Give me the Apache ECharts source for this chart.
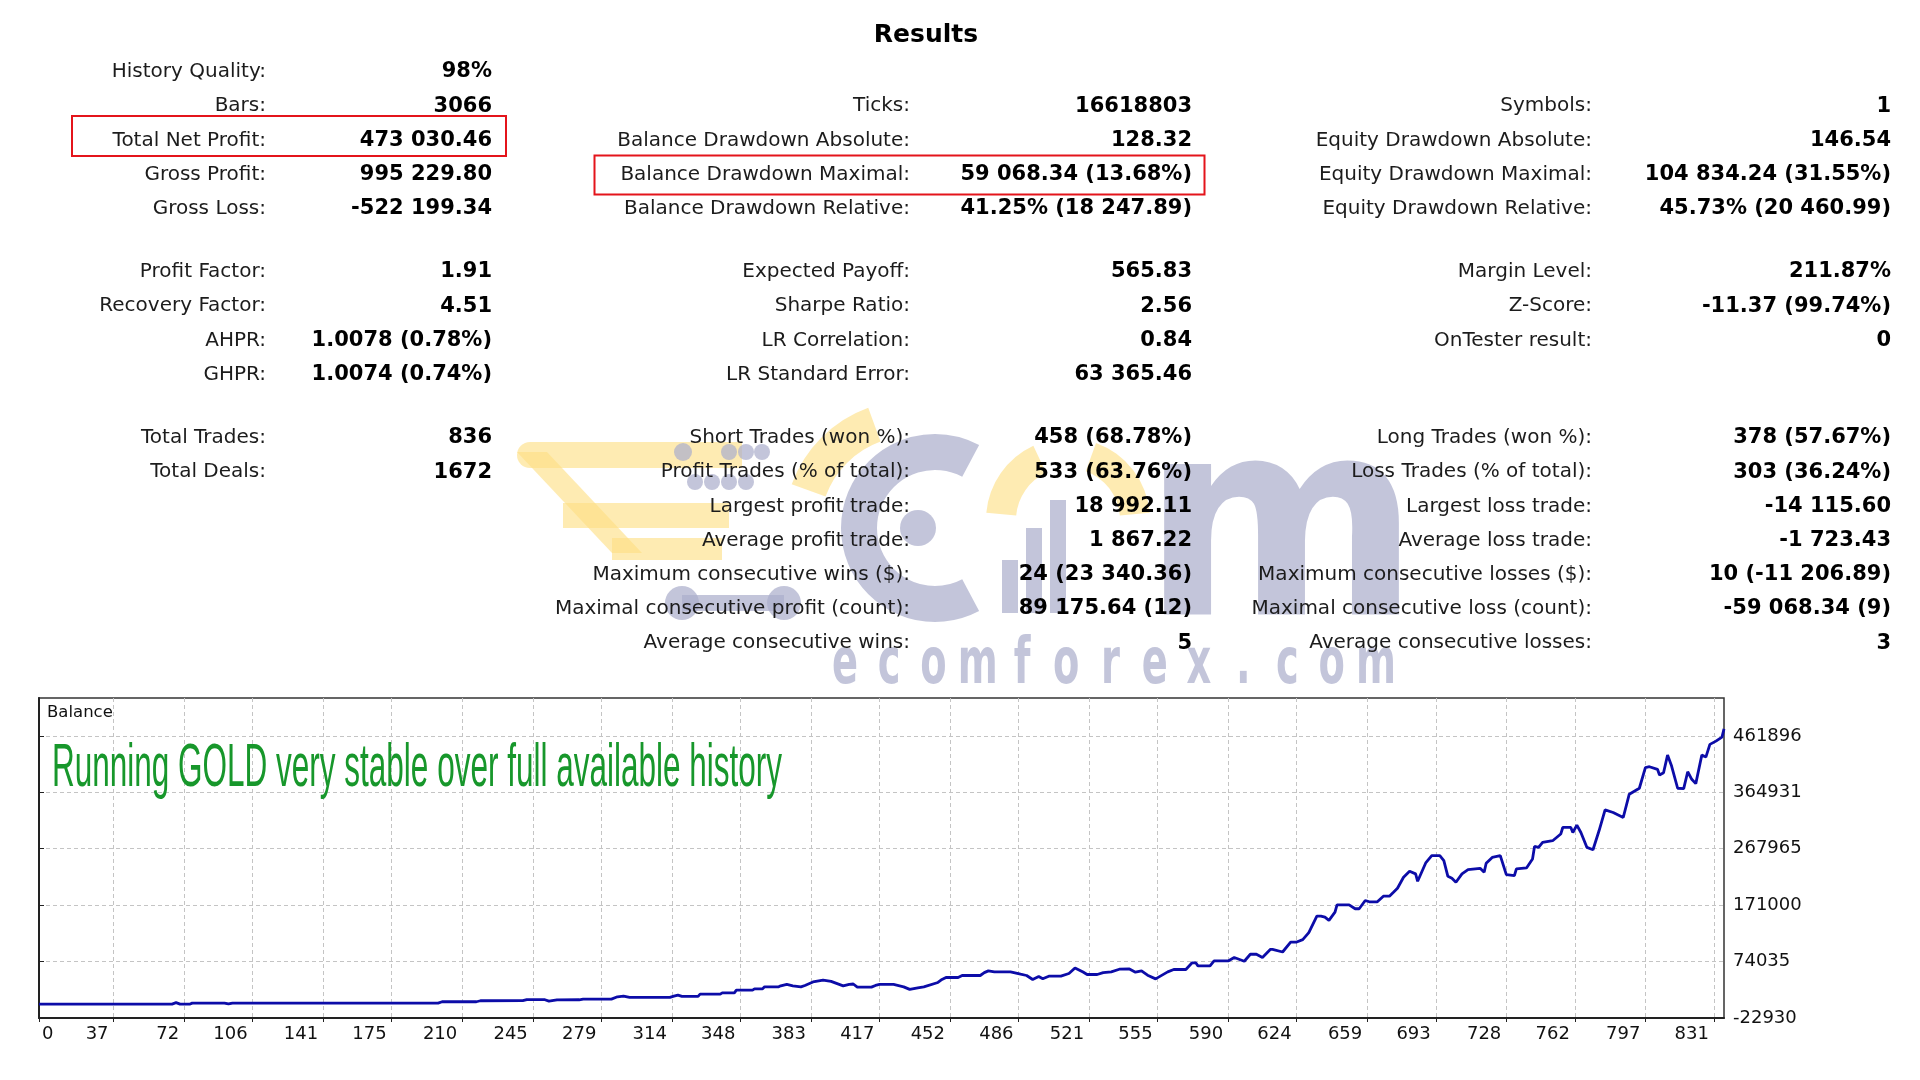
<!DOCTYPE html>
<html><head><meta charset="utf-8">
<script src="https://cdn.jsdelivr.net/npm/echarts@6/dist/echarts.min.js"></script>
<style>html,body{margin:0;padding:0;background:#fff}#c{width:1920px;height:1080px}</style>
</head><body><div id="c"></div>
<script>
// ---------- chart data ----------
const tradeIdx = [0,66,68,70,75,76,92,94,96,198,200,217,219,240,242,251,253,257,268,270,284,287,290,293,313,315,317,319,327,328,338,339,345,346,354,355,359,360,367,368,371,374,378,380,384,389,393,399,402,404,406,413,415,417,424,429,432,436,439,446,448,450,456,458,467,469,471,474,482,487,490,493,496,498,501,507,511,514,518,520,525,528,532,536,541,544,547,550,554,560,563,569,572,574,575,581,583,590,593,598,601,604,607,611,612,617,621,624,627,630,634,636,638,640,643,644,650,653,655,658,660,664,667,670,672,674,677,680,683,684,688,691,695,697,699,701,703,706,709,715,717,718,721,725,728,732,733,738,741,742,744,746,751,755,756,760,761,763,765,768,771,774,777,781,786,789,794,797,799,803,804,806,808,810,813,816,818,820,822,825,827,829,832,835,836];
const balance = [1000,1000,3500,900,1000,2600,2600,1200,2600,2600,5000,5000,6700,6800,8500,8500,6100,8300,8400,9600,9600,13500,14700,12500,12500,14700,16400,14200,14200,18100,18100,20300,20300,25000,25000,27200,27200,30600,30600,32300,34700,32300,30600,33000,39000,42100,40000,32300,34700,35500,30100,30100,33000,34700,34700,30600,26200,29000,30600,38100,43300,46700,46700,50100,50100,55000,58000,56300,56300,52300,50100,43300,48400,44500,48900,48900,53500,63100,56000,51800,51800,55000,56300,60900,61400,55800,58000,50600,44300,56300,60400,60400,71700,71700,66600,66600,75100,75100,81000,74600,86600,86600,80900,95100,95100,90500,107600,107600,111700,123700,152100,152100,150400,144800,159000,171600,171600,164800,164800,179000,176800,176800,186400,186400,193200,200100,218900,229200,224700,212000,243500,256000,256000,247500,220600,217200,210300,224700,232100,234300,227500,242900,253100,256000,223500,221800,233300,235000,250400,272000,270200,278800,281700,293200,304500,304500,295900,308600,295900,270200,266300,298800,334800,330200,321600,361700,371900,407200,408900,404400,394700,398600,428900,410100,371900,371300,400300,387300,379800,428900,425500,447300,452900,459700,474030];
const xTickLabels = ['0','37','72','106','141','175','210','245','279','314','348','383','417','452','486','521','555','590','624','659','693','728','762','797','831'];
const yTickLabels = ['-22930','74035','171000','267965','364931','461896'];
const xMax = 836;
const yMax = 527000;
const chartLabel = 'Balance';
const chartNote = 'Running GOLD very stable over full available history';

// ---------- report text ----------
const reportTitle = 'Results';
const col1Rows = [0,1,2,3,4,5,6,7,8,9,10];
const col1Labels = ['History Quality:','Bars:','Total Net Profit:','Gross Profit:','Gross Loss:','Profit Factor:','Recovery Factor:','AHPR:','GHPR:','Total Trades:','Total Deals:'];
const col1Values = ['98%','3066','473 030.46','995 229.80','-522 199.34','1.91','4.51','1.0078 (0.78%)','1.0074 (0.74%)','836','1672'];
const col2Rows = [1,2,3,4,5,6,7,8,9,10,11,12,13,14,15];
const col2Labels = ['Ticks:','Balance Drawdown Absolute:','Balance Drawdown Maximal:','Balance Drawdown Relative:','Expected Payoff:','Sharpe Ratio:','LR Correlation:','LR Standard Error:','Short Trades (won %):','Profit Trades (% of total):','Largest profit trade:','Average profit trade:','Maximum consecutive wins ($):','Maximal consecutive profit (count):','Average consecutive wins:'];
const col2Values = ['16618803','128.32','59 068.34 (13.68%)','41.25% (18 247.89)','565.83','2.56','0.84','63 365.46','458 (68.78%)','533 (63.76%)','18 992.11','1 867.22','24 (23 340.36)','89 175.64 (12)','5'];
const col3Rows = [1,2,3,4,5,6,7,9,10,11,12,13,14,15];
const col3Labels = ['Symbols:','Equity Drawdown Absolute:','Equity Drawdown Maximal:','Equity Drawdown Relative:','Margin Level:','Z-Score:','OnTester result:','Long Trades (won %):','Loss Trades (% of total):','Largest loss trade:','Average loss trade:','Maximum consecutive losses ($):','Maximal consecutive loss (count):','Average consecutive losses:'];
const col3Values = ['1','146.54','104 834.24 (31.55%)','45.73% (20 460.99)','211.87%','-11.37 (99.74%)','0','378 (57.67%)','303 (36.24%)','-14 115.60','-1 723.43','10 (-11 206.89)','-59 068.34 (9)','3'];
const watermarkText = 'ecomforex.com';

// ---------- layout ----------
const xTickVals = xTickLabels.map(Number);
const yTickVals = yTickLabels.map(Number);
function rowY(i){ if(i<5) return 72+34.2*i; if(i<9) return 272+34.2*(i-5); return 438+34.2*(i-9); }
const LABEL_FONT = '20px "DejaVu Sans"';
const VALUE_FONT = 'bold 21px "DejaVu Sans"';
function T(x,y,s,font,fill,align,extra){
  return Object.assign({type:'text', x:x, y:y, z:10, style:{text:s, font:font, fill:fill, align:align, verticalAlign:'middle', textAlign:align, textVerticalAlign:'middle'}}, extra||{});
}
function measure(s,font){ const c=document.createElement('canvas').getContext('2d'); c.font=font; return c.measureText(s).width; }

const graphics = [];
// watermark (behind)
const WG = 'rgba(172,175,204,0.72)', WY = 'rgba(253,222,130,0.62)';
const deg = Math.PI/180;
graphics.push({type:'sector', z:1, shape:{cx:912, cy:528, r0:92, r:128, startAngle:200*deg, endAngle:250*deg, clockwise:true}, style:{fill:WY}});
graphics.push({type:'rect', z:1, shape:{x:517, y:442, width:225, height:26, r:[13,0,0,13]}, style:{fill:WY}});
graphics.push({type:'polygon', z:1, shape:{points:[[517,452],[547,452],[642,553],[612,553]]}, style:{fill:WY}});
graphics.push({type:'rect', z:1, shape:{x:563, y:503, width:166, height:25}, style:{fill:WY}});
graphics.push({type:'rect', z:1, shape:{x:612, y:538, width:110, height:22}, style:{fill:WY}});
graphics.push({type:'sector', z:1, shape:{cx:1068, cy:520, r0:52, r:82, startAngle:185*deg, endAngle:245*deg, clockwise:true}, style:{fill:WY}});
graphics.push({type:'sector', z:1, shape:{cx:1068, cy:520, r0:52, r:82, startAngle:290*deg, endAngle:355*deg, clockwise:true}, style:{fill:WY}});
graphics.push({type:'sector', z:2, shape:{cx:935, cy:528, r0:58, r:94, startAngle:62*deg, endAngle:298*deg, clockwise:true}, style:{fill:WG}});
graphics.push({type:'circle', z:2, shape:{cx:918, cy:528, r:18}, style:{fill:WG}});
[[683,452,9],[729,452,8],[746,452,8],[762,452,8],[695,482,8],[712,482,8],[729,482,8],[746,482,8]].forEach(d=>graphics.push({type:'circle', z:2, shape:{cx:d[0], cy:d[1], r:d[2]}, style:{fill:WG}}));
graphics.push({type:'circle', z:2, shape:{cx:682, cy:603, r:17}, style:{fill:WG}});
graphics.push({type:'circle', z:2, shape:{cx:784, cy:603, r:17}, style:{fill:WG}});
graphics.push({type:'rect', z:2, shape:{x:682, y:595, width:102, height:16}, style:{fill:WG}});
[[1002,560],[1026,528],[1050,500]].forEach(b=>graphics.push({type:'rect', z:2, shape:{x:b[0], y:b[1], width:16, height:613-b[1]}, style:{fill:WG}}));
graphics.push({type:'text', z:2, x:1281, y:543, scaleX:0.97, style:{text:'m', font:'bold 275px "DejaVu Sans"', fill:WG, align:'center', verticalAlign:'middle', textAlign:'center', textVerticalAlign:'middle'}});
watermarkText.split('').forEach((ch,i)=>graphics.push({type:'text', z:2, x:845+44.25*i, y:666, scaleX:0.6, style:{text:ch, font:'bold 64px "DejaVu Sans"', fill:WG, align:'center', verticalAlign:'middle', textAlign:'center', textVerticalAlign:'middle'}}));

// title and table text
graphics.push(T(926, 35, reportTitle, 'bold 25px "DejaVu Sans"', '#000', 'center'));
const cols = [[col1Rows,col1Labels,col1Values,266,492],[col2Rows,col2Labels,col2Values,910,1192],[col3Rows,col3Labels,col3Values,1592,1891]];
cols.forEach(c=>{
  c[0].forEach((r,i)=>{
    graphics.push(T(c[3], rowY(r), c[1][i], LABEL_FONT, '#1c1c1c', 'right'));
    graphics.push(T(c[4], rowY(r), c[2][i], VALUE_FONT, '#000', 'right'));
  });
});
// red highlight boxes
graphics.push({type:'rect', z:11, shape:{x:72, y:116, width:434, height:40}, style:{fill:'none', stroke:'#e4141b', lineWidth:2}});
graphics.push({type:'rect', z:11, shape:{x:594.5, y:155.5, width:610, height:39}, style:{fill:'none', stroke:'#e4141b', lineWidth:2}});
// chart texts
graphics.push(T(47, 713, chartLabel, '16.5px "DejaVu Sans"', '#111', 'left'));
const noteFont = '61px "Liberation Sans"';
const noteScale = 730/measure(chartNote, noteFont);
graphics.push({type:'text', z:12, x:52, y:769.5, scaleX:noteScale, style:{text:chartNote, font:noteFont, fill:'#17972b', align:'left', verticalAlign:'middle', textAlign:'left', textVerticalAlign:'middle'}});

const chart = echarts.init(document.getElementById('c'), null, {renderer:'canvas'});
chart.setOption({
  animation:false,
  backgroundColor:'#ffffff',
  grid:{left:39, right:196, top:698, bottom:62, show:true, borderColor:'#333', borderWidth:1.5, backgroundColor:'transparent'},
  xAxis:{type:'value', min:0, max:xMax,
    axisLine:{show:true, onZero:false, lineStyle:{color:'#222', width:2}},
    axisTick:{show:true, customValues:xTickVals, length:4, lineStyle:{color:'#222'}},
    axisLabel:{customValues:xTickVals, align:'right', alignMinLabel:'left', margin:7, padding:[0,5,0,3], color:'#111', fontFamily:'DejaVu Sans', fontSize:18,
      formatter:v=>{const k=xTickVals.indexOf(v); return k>=0?xTickLabels[k]:'';}},
    splitLine:{show:true, lineStyle:{type:[4,3], color:'#c4c4c4', width:1}}},
  yAxis:{type:'value', position:'right', min:yTickVals[0], max:yMax,
    axisLine:{show:true, lineStyle:{color:'#222', width:2}},
    axisTick:{show:true, customValues:yTickVals, length:5, lineStyle:{color:'#222'}},
    axisLabel:{customValues:yTickVals, align:'left', margin:9, padding:[8,0,0,0], color:'#111', fontFamily:'DejaVu Sans', fontSize:18,
      formatter:v=>{const k=yTickVals.indexOf(v); return k>=0?yTickLabels[k]:'';}},
    splitLine:{show:true, lineStyle:{type:[4,3], color:'#c4c4c4', width:1}}},
  series:[{type:'line', data:tradeIdx.map((t,i)=>[t,balance[i]]), showSymbol:false, symbol:'none',
    lineStyle:{color:'#0c0ca8', width:2.8}, itemStyle:{color:'#0c0ca8'}, z:5}],
  graphic:graphics
});
</script></body></html>
